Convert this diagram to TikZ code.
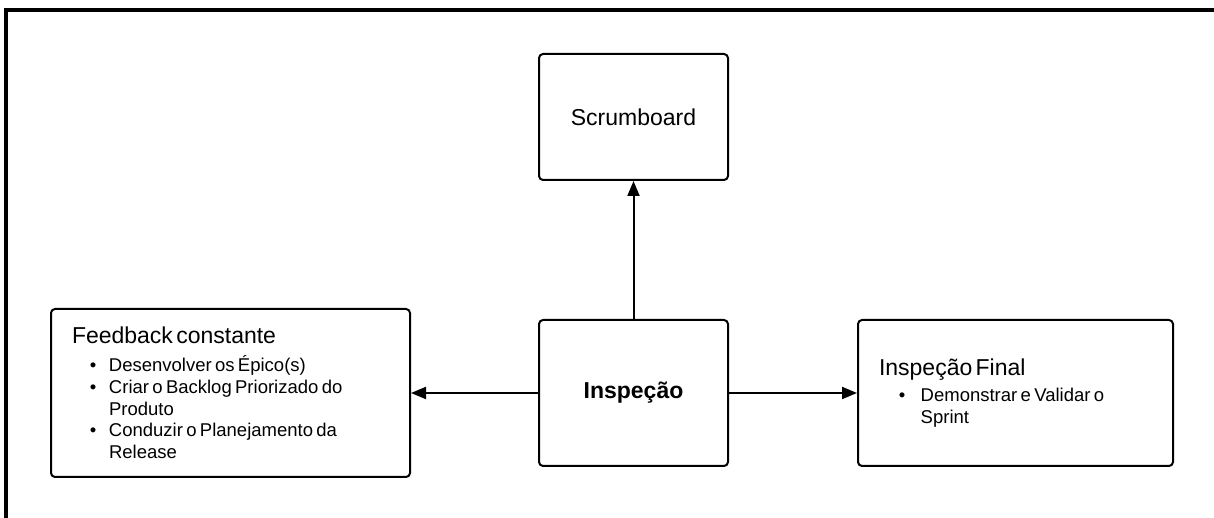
\documentclass[tikz,border=0pt]{standalone}
\usepackage{fontspec}
\setmainfont{Liberation Sans}
\usetikzlibrary{arrows.meta}
% bullet line: #1 gap after the bullet, #2 text
\newcommand{\bul}[2]{\noindent\llap{\textbullet\hspace{#1}}#2\par}
\begin{document}
\begin{tikzpicture}[x=1pt, y=1pt, line join=round, >={Triangle[length=15pt,width=12pt]},
	box/.style={draw, line width=2pt, rounded corners=4pt, inner sep=0pt},
	big/.style={font=\fontsize{23}{28}\selectfont},
	conn/.style={->, line width=2pt}]
	\def\yc{125} \def\xc{633.5}
	\useasboundingbox (0,0) rectangle (1214,518);
	\draw[line width=4pt, line join=miter] (6.3,-20) -- (6.3,508) -- (1240,508);
	\node[box, big, minimum width=189pt, minimum height=126pt] (scrum) at (\xc,401) {Scrumboard};
	\node[box, big, minimum width=189pt, minimum height=146pt] (insp) at (\xc,\yc) {\bfseries Inspeção};
	\node[box, minimum width=359pt, minimum height=168pt, text width=317pt, inner xsep=21pt] (feed) at (230.5,\yc) {%
		\parindent=0pt{\fontsize{23}{28}\selectfont Feedback constante\par}\vspace{6pt}%
		\fontsize{18.5}{21.7}\selectfont\leftskip=37pt
		\bul{12.7pt}{Desenvolver os Épico(s)}
		\bul{12.7pt}{Criar o Backlog Priorizado do\newline Produto}
		\bul{12.7pt}{Conduzir o Planejamento da\newline Release}};
	\node[box, minimum width=315pt, minimum height=146pt, text width=273pt, inner xsep=21pt] (final) at (1015.5,\yc) {%
		\parindent=0pt{\fontsize{23}{28}\selectfont Inspeção Final\par}\vspace{5pt}%
		\fontsize{18.5}{21.7}\selectfont\leftskip=41.7pt
		\bul{15.4pt}{Demonstrar e Validar o\newline Sprint}};
	\draw[conn] (insp.north) -- (scrum.south);
	\draw[conn] (insp.west) -- (feed.east);
	\draw[conn] (insp.east) -- (final.west);
\end{tikzpicture}
\end{document}
